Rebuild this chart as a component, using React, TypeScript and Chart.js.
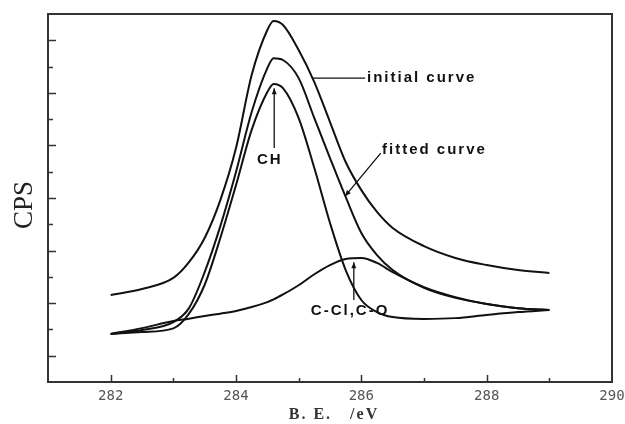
import React, { useEffect, useRef } from "react";
import { Chart, registerables } from "chart.js";

Chart.register(...registerables);

// Binding energy grid (eV)
const bindingEnergy = [282, 282.5, 283, 283.25, 283.5, 283.75, 284, 284.25, 284.5, 284.6, 284.75, 285, 285.25, 285.5, 285.75, 286, 286.25, 286.5, 287, 287.5, 288, 288.5, 289];
// Intensities (arbitrary CPS units)
const initialCurve = [3.31, 3.54, 3.96, 4.56, 5.48, 6.92, 8.9, 11.68, 13.39, 13.73, 13.58, 12.63, 11.41, 9.89, 8.37, 7.3, 6.47, 5.86, 5.17, 4.72, 4.45, 4.26, 4.15];
const fittedCurve = [1.83, 1.98, 2.28, 2.81, 4.18, 5.93, 7.99, 10.27, 11.94, 12.32, 12.25, 11.56, 10.04, 8.52, 7.04, 5.67, 4.83, 4.26, 3.58, 3.2, 2.97, 2.81, 2.74];
const chPeak = [1.83, 1.9, 2.04, 2.6, 3.7, 5.48, 7.49, 9.59, 11.03, 11.34, 11.18, 10.04, 8.14, 6.05, 4.26, 3.12, 2.66, 2.47, 2.4, 2.43, 2.55, 2.66, 2.74];
const cclPeak = [1.83, 2.05, 2.32, 2.41, 2.51, 2.6, 2.7, 2.85, 3.04, 3.14, 3.33, 3.68, 4.1, 4.45, 4.68, 4.72, 4.53, 4.18, 3.61, 3.23, 2.97, 2.81, 2.74];

// Axis ticks
const xTickLabels = [282, 284, 286, 288, 290];
const xTickMarks = [282, 283, 284, 285, 286, 287, 288, 289];
const yTickMarks = [1, 2, 3, 4, 5, 6, 7, 8, 9, 10, 11, 12, 13];

// Annotation labels
const labelTexts = ["initial curve", "fitted curve", "CH", "C-Cl,C-O"];
const labelAnchors = [[286.09, 11.56], [286.33, 8.82], [284.54, 8.44], [285.82, 2.7]];
const labelAlign = ["left", "left", "center", "center"];
const pointerFrom = [[285.21, 11.56], [286.31, 8.71], [284.61, 8.9], [285.88, 3.12]];
const pointerTo = [[286.06, 11.56], [285.74, 7.07], [284.61, 11.18], [285.88, 4.56]];
const pointerArrow = [false, true, true, true];

const pts = (vals: number[]) => vals.map((v, i) => ({ x: bindingEnergy[i], y: v }));

const decorPlugin = {
  id: "decor",
  afterDraw(chart: any) {
    const { ctx, chartArea: a, scales } = chart;
    const xs = scales.x;
    const ys = scales.y;
    ctx.save();
    // frame
    ctx.strokeStyle = "#333";
    ctx.lineWidth = 2;
    ctx.strokeRect(a.left, a.top, a.right - a.left, a.bottom - a.top);
    // ticks
    ctx.lineWidth = 1.5;
    ctx.beginPath();
    xTickMarks.forEach((v) => {
      const px = Math.round(xs.getPixelForValue(v)) + 0.5;
      const len = v % 2 === 0 ? 7 : 4;
      ctx.moveTo(px, a.bottom);
      ctx.lineTo(px, a.bottom - len);
    });
    yTickMarks.forEach((v) => {
      const py = Math.round(ys.getPixelForValue(v)) + 0.5;
      const len = v % 2 === 1 ? 8 : 5;
      ctx.moveTo(a.left, py);
      ctx.lineTo(a.left + len, py);
    });
    ctx.stroke();

    // axis titles
    ctx.fillStyle = "#222";
    ctx.save();
    ctx.translate(25, 205);
    ctx.rotate(-Math.PI / 2);
    ctx.font = "27px 'Liberation Serif'";
    ctx.textAlign = "center";
    ctx.textBaseline = "middle";
    ctx.fillText("CPS", 0, 0);
    ctx.restore();

    ctx.font = "bold 16px 'Liberation Serif'";
    (ctx as any).letterSpacing = "2px";
    ctx.textAlign = "center";
    ctx.textBaseline = "middle";
    ctx.fillStyle = "#333";
    ctx.fillText("B. E.   /eV", 334, 415);

    // annotations
    ctx.strokeStyle = "#111";
    ctx.fillStyle = "#111";
    ctx.lineWidth = 1.3;
    labelTexts.forEach((t, i) => {
      const x0 = xs.getPixelForValue(pointerFrom[i][0]);
      const y0 = ys.getPixelForValue(pointerFrom[i][1]);
      const x1 = xs.getPixelForValue(pointerTo[i][0]);
      const y1 = ys.getPixelForValue(pointerTo[i][1]);
      ctx.beginPath();
      ctx.moveTo(x0, y0);
      ctx.lineTo(x1, y1);
      ctx.stroke();
      if (pointerArrow[i]) {
        const ang = Math.atan2(y1 - y0, x1 - x0);
        const L = 6;
        const W = 2.5;
        ctx.beginPath();
        ctx.moveTo(x1, y1);
        ctx.lineTo(x1 - L * Math.cos(ang) + W * Math.sin(ang), y1 - L * Math.sin(ang) - W * Math.cos(ang));
        ctx.lineTo(x1 - L * Math.cos(ang) - W * Math.sin(ang), y1 - L * Math.sin(ang) + W * Math.cos(ang));
        ctx.closePath();
        ctx.fill();
      }
      ctx.font = "bold 15px 'Liberation Sans'";
      (ctx as any).letterSpacing = "2px";
      ctx.textAlign = labelAlign[i] as CanvasTextAlign;
      ctx.textBaseline = "middle";
      ctx.fillText(t, xs.getPixelForValue(labelAnchors[i][0]), ys.getPixelForValue(labelAnchors[i][1]));
    });
    ctx.restore();
  },
};

export default function App() {
  const ref = useRef<HTMLCanvasElement | null>(null);
  useEffect(() => {
    if (!ref.current) return;
    const lineStyle = {
      borderColor: "#111",
      borderWidth: 2,
      pointRadius: 0,
      fill: false,
      cubicInterpolationMode: "monotone" as const,
    };
    const chart = new Chart(ref.current, {
      type: "line",
      data: {
        datasets: [
          { label: "initial curve", data: pts(initialCurve), ...lineStyle },
          { label: "fitted curve", data: pts(fittedCurve), ...lineStyle },
          { label: "CH", data: pts(chPeak), ...lineStyle },
          { label: "C-Cl,C-O", data: pts(cclPeak), ...lineStyle },
        ],
      },
      options: {
        animation: false,
        responsive: false,
        devicePixelRatio: 1,
        layout: { padding: { top: 14, right: 13, left: 0, bottom: 0 } },
        plugins: { legend: { display: false }, tooltip: { enabled: false } },
        scales: {
          x: {
            type: "linear",
            min: 281,
            max: 290,
            grid: { display: false, drawTicks: false },
            border: { display: false },
            afterBuildTicks: (s: any) => {
              s.ticks = xTickLabels.map((v) => ({ value: v }));
            },
            afterFit: (s: any) => {
              s.height = 42;
              s.paddingLeft = 0;
              s.paddingRight = 0;
            },
            ticks: {
              autoSkip: false,
              maxRotation: 0,
              padding: 6,
              color: "#555",
              font: { family: "'DejaVu Sans Mono'", size: 14 },
              callback: (v: any) => String(v),
            },
          },
          y: {
            type: "linear",
            min: 0,
            max: 14,
            grid: { display: false, drawTicks: false },
            border: { display: false },
            ticks: { display: false },
            afterFit: (s: any) => {
              s.width = 48;
              s.paddingTop = 0;
              s.paddingBottom = 0;
            },
          },
        },
      },
      plugins: [decorPlugin],
    });
    return () => chart.destroy();
  }, []);
  return (
    <div style={{ position: "fixed", left: 0, top: 0, width: 625, height: 424, background: "#fff" }}>
      <canvas ref={ref} width={625} height={424} style={{ display: "block" }} />
    </div>
  );
}
